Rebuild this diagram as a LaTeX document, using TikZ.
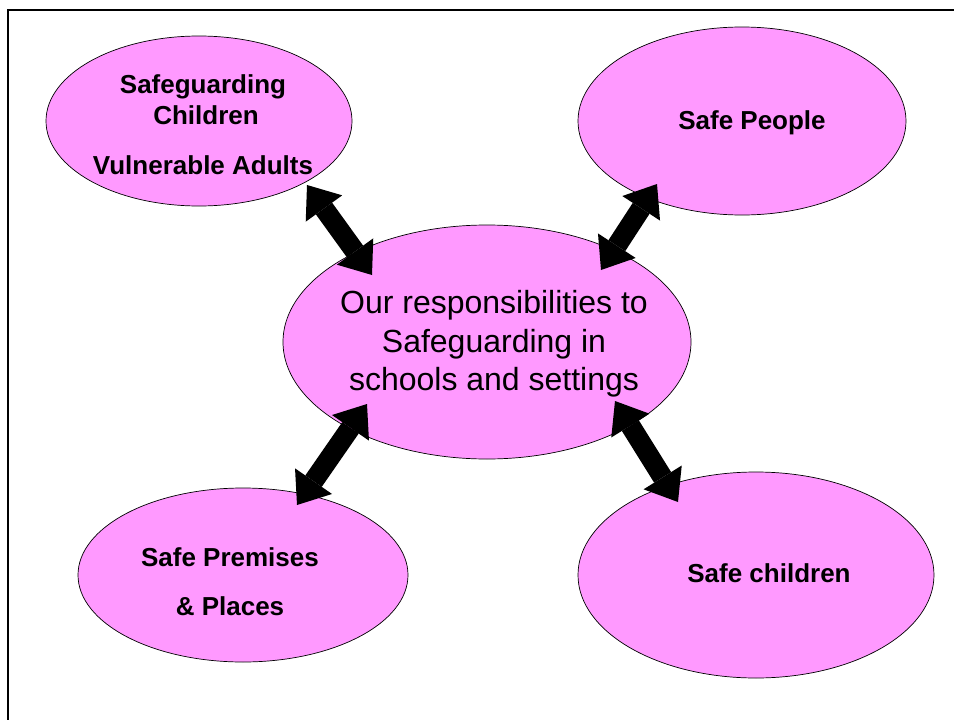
\documentclass[tikz,border=0pt]{standalone}
\usepackage{fontspec}
\setmainfont{Liberation Sans}
\usetikzlibrary{arrows.meta,shapes.geometric}

\definecolor{bubblepink}{RGB}{255,153,255}

\tikzset{
  bubble/.style={ellipse, draw=black, line width=0.7pt, fill=bubblepink, inner sep=0pt},
  labeltext/.style={anchor=base, inner sep=0pt, font=\fontsize{26}{31}\selectfont\bfseries},
  maintext/.style={anchor=base, inner sep=0pt, font=\fontsize{32}{38}\selectfont},
  twoway/.style={line width=20pt,
    {Triangle[width=45pt,length=29pt,line width=0pt]}-{Triangle[width=45pt,length=29pt,line width=0pt]}},
  frameline/.style={line width=2pt}
}

\begin{document}
\begin{tikzpicture}[x=1pt,y=-1pt]
  \useasboundingbox (0,0) rectangle (954,720);

  % frame along the top and left edges
  \draw[frameline] (8,720) -- (8,10) -- (954,10);

  % the five ellipses
  \node[bubble, minimum width=306pt, minimum height=170pt] (kids)    at (199,121) {};
  \node[bubble, minimum width=328pt, minimum height=188pt] (people)  at (742,121) {};
  \node[bubble, minimum width=408pt, minimum height=234pt] (core)    at (487,342) {};
  \node[bubble, minimum width=330pt, minimum height=174pt] (places)  at (243,575) {};
  \node[bubble, minimum width=356pt, minimum height=206pt] (safekids) at (756,575) {};

  % ends of the double-headed arrows
  \coordinate (k1) at (307,185);  \coordinate (k2) at (372,275);
  \coordinate (p1) at (657,184);  \coordinate (p2) at (601,270);
  \coordinate (q1) at (367,404);  \coordinate (q2) at (297,505);
  \coordinate (s1) at (615,401);  \coordinate (s2) at (678,502);

  \draw[twoway] (k1) -- (k2);
  \draw[twoway] (p1) -- (p2);
  \draw[twoway] (q1) -- (q2);
  \draw[twoway] (s1) -- (s2);

  % labels
  \node[labeltext] (kidsA) at (203,93)  {Safeguarding};
  \node[labeltext] (kidsB) at (206,124) {Children};
  \node[labeltext] (kidsC) at (203,174) {Vulnerable Adults};

  \node[labeltext] (peopleA) at (752,129) {Safe People};

  \node[maintext] (coreA) at (494,313) {Our responsibilities to};
  \node[maintext] (coreB) at (494,352) {Safeguarding in};
  \node[maintext] (coreC) at (494,390) {schools and settings};

  \node[labeltext] (placesA) at (230,566) {Safe Premises};
  \node[labeltext] (placesB) at (230,615) {\& Places};

  \node[labeltext] (safekidsA) at (769,582) {Safe children};
\end{tikzpicture}
\end{document}
